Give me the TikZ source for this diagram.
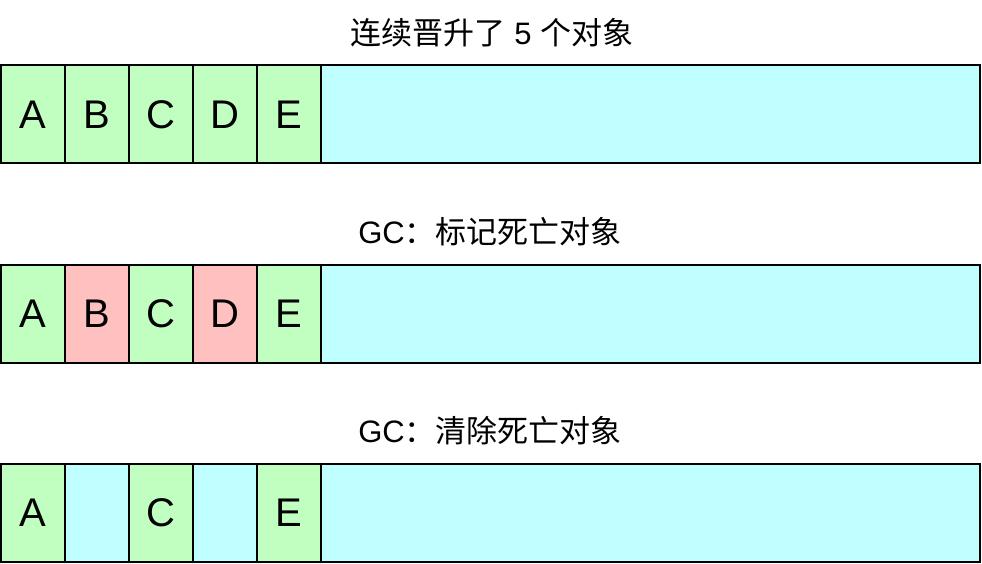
\documentclass[tikz,border=0pt]{standalone}
\usepackage{fontspec}
\setmainfont{Liberation Sans}
\newfontfamily\cjk{Noto Sans CJK SC}
\usetikzlibrary{positioning}
\definecolor{objgreen}{HTML}{C0FFC0}
\definecolor{objred}{HTML}{FFC0C0}
\definecolor{freecyan}{HTML}{C0FFFF}
\tikzset{
  cell/.style={draw, line width=2pt, outer sep=0pt, inner sep=0pt,
    minimum width=64pt, minimum height=98pt,
    font=\fontsize{40}{48}\selectfont},
  live/.style={cell, fill=objgreen},
  dead/.style={cell, fill=objred},
  free/.style={cell, fill=freecyan},
  rest/.style={free, minimum width=659pt},
  title/.style={font=\fontsize{31}{37}\selectfont}
}
\begin{document}
\begin{tikzpicture}[x=1pt, y=-1pt]
\useasboundingbox (0,0) rectangle (982,564);
% row 1
\node[title] (t1) at (492,33) {{\cjk 连续晋升了} 5 {\cjk 个对象}};
\node[live, anchor=north west] (a1) at (1,65.5) {A};
\node[live, right=0pt of a1] (b1) {B};
\node[live, right=0pt of b1] (c1) {C};
\node[live, right=0pt of c1] (d1) {D};
\node[live, right=0pt of d1] (e1) {E};
\node[rest, right=0pt of e1] (f1) {};
% row 2
\node[title] (t2) at (490,232) {GC{\cjk ：标记死亡对象}};
\node[live, anchor=north west] (a2) at (1,265) {A};
\node[dead, right=0pt of a2] (b2) {B};
\node[live, right=0pt of b2] (c2) {C};
\node[dead, right=0pt of c2] (d2) {D};
\node[live, right=0pt of d2] (e2) {E};
\node[rest, right=0pt of e2] (f2) {};
% row 3
\node[title] (t3) at (490,431) {GC{\cjk ：清除死亡对象}};
\node[live, anchor=north west] (a3) at (1,464) {A};
\node[free, right=0pt of a3] (b3) {};
\node[live, right=0pt of b3] (c3) {C};
\node[free, right=0pt of c3] (d3) {};
\node[live, right=0pt of d3] (e3) {E};
\node[rest, right=0pt of e3] (f3) {};
\end{tikzpicture}
\end{document}
